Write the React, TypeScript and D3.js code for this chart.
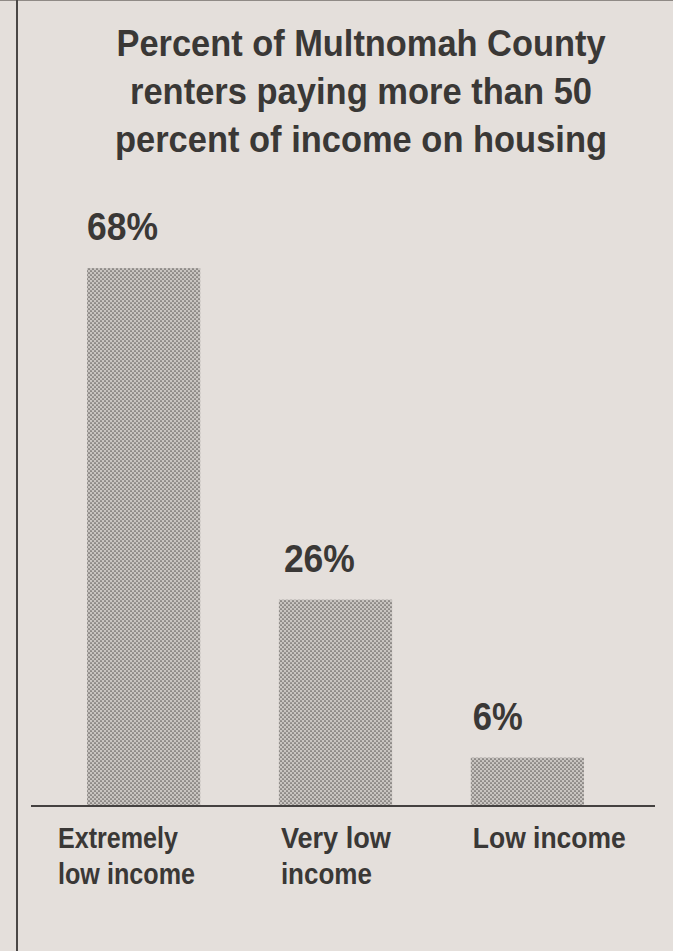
import React from 'react';
import * as d3 from 'd3';

// ---- data ----
const categories = ['Extremely low income', 'Very low income', 'Low income'];
const categoryLines = [['Extremely', 'low income'], ['Very low', 'income'], ['Low income']];
const values = [68, 26, 6];
const valueLabels = ['68%', '26%', '6%'];
const titleLines = [
  'Percent of Multnomah County',
  'renters paying more than 50',
  'percent of income on housing',
];

// ---- layout ----
const W = 673;
const H = 951;
const BASE_Y = 805;
const FONT = '"Liberation Sans", Arimo, Arial, Helvetica, sans-serif';
const INK = '#3a3836';
const PAPER = '#e4dfdb';

const titleLayout = { cx: 361, y0: 56, dy: 48, size: 36, widths: [489, 462, 492] };
const valueLayout = { size: 39, gap: 28, dx: [0, 5, 2], widths: [71, 71, 50] };
const catLayout = { size: 29, y0: 848, dy: 36, dx: [-29, 2, 2], widths: [[120, 137], [110, 91], [153]] };

const x = d3.scaleBand<string>().domain(categories).range([87, 584]).paddingInner(0.41).paddingOuter(0);
const y = d3.scaleLinear().domain([0, 68]).range([BASE_Y, 268]);

export default function App() {
  return (
    <svg
      width={W}
      height={H}
      viewBox={`0 0 ${W} ${H}`}
      style={{ position: 'absolute', left: 0, top: 0, display: 'block' }}
    >
      <defs>
        <pattern id="halftone" width={4} height={4} patternUnits="userSpaceOnUse">
          <rect width={4} height={4} fill="#c9c5c1" />
          <circle cx={1} cy={1} r={0.85} fill="#5f5c5a" />
          <circle cx={3} cy={3} r={0.85} fill="#5f5c5a" />
        </pattern>
      </defs>
      <rect x={0} y={0} width={W} height={H} fill={PAPER} />
      <line x1={0} x2={W} y1={0.5} y2={0.5} stroke="#8f8a86" strokeWidth={1} />
      <line x1={17} x2={17} y1={0} y2={H} stroke="#4a4745" strokeWidth={2} />

      {titleLines.map((t, i) => (
        <text
          key={t}
          x={titleLayout.cx}
          y={titleLayout.y0 + i * titleLayout.dy}
          textAnchor="middle"
          fontFamily={FONT}
          fontWeight="bold"
          fontSize={titleLayout.size}
          fill={INK}
          textLength={titleLayout.widths[i]}
          lengthAdjust="spacingAndGlyphs"
        >
          {t}
        </text>
      ))}

      {categories.map((c, i) => (
        <rect
          key={c}
          x={x(c)}
          y={y(values[i])}
          width={x.bandwidth()}
          height={BASE_Y - y(values[i])}
          fill="url(#halftone)"
        />
      ))}

      {categories.map((c, i) => (
        <text
          key={c + '-v'}
          x={(x(c) as number) + valueLayout.dx[i]}
          y={y(values[i]) - valueLayout.gap}
          fontFamily={FONT}
          fontWeight="bold"
          fontSize={valueLayout.size}
          fill={INK}
          textLength={valueLayout.widths[i]}
          lengthAdjust="spacingAndGlyphs"
        >
          {valueLabels[i]}
        </text>
      ))}

      <line x1={31} x2={655} y1={BASE_Y + 1} y2={BASE_Y + 1} stroke="#444140" strokeWidth={2} />

      {categories.map((c, i) =>
        categoryLines[i].map((line, j) => (
          <text
            key={c + '-c' + j}
            x={(x(c) as number) + catLayout.dx[i]}
            y={catLayout.y0 + j * catLayout.dy}
            fontFamily={FONT}
            fontWeight="bold"
            fontSize={catLayout.size}
            fill={INK}
            textLength={catLayout.widths[i][j]}
            lengthAdjust="spacingAndGlyphs"
          >
            {line}
          </text>
        ))
      )}
    </svg>
  );
}
